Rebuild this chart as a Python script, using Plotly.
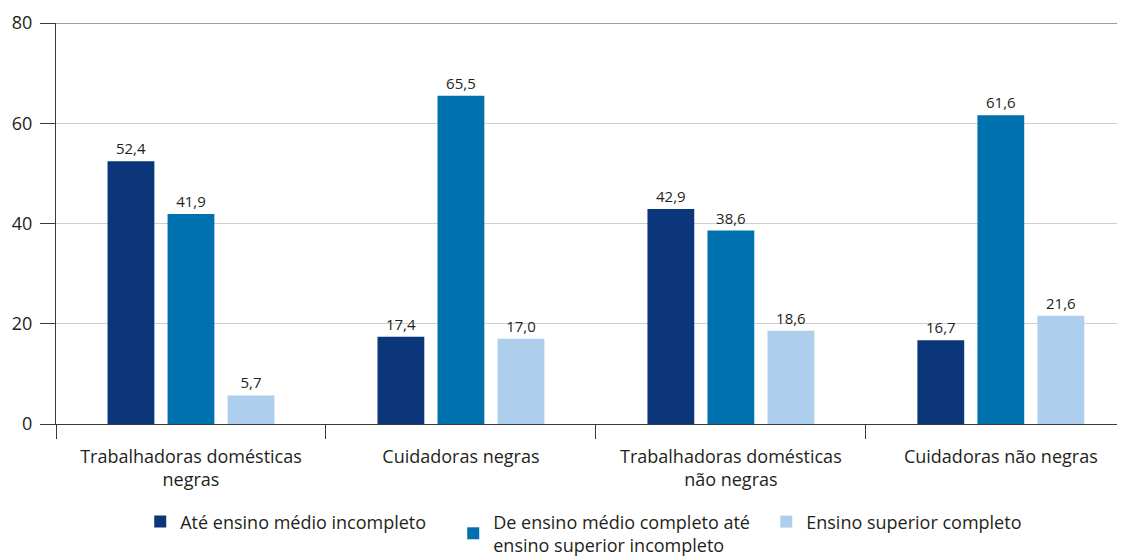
import plotly.graph_objects as go

categories = ["Trabalhadoras domésticas<br>negras", "Cuidadoras negras",
              "Trabalhadoras domésticas<br>não negras", "Cuidadoras não negras"]
series_names = ["Até ensino médio incompleto",
                "De ensino médio completo até<br>ensino superior incompleto",
                "Ensino superior completo"]
ate_medio_incompleto = [52.4, 17.4, 42.9, 16.7]
medio_completo_sup_incompleto = [41.9, 65.5, 38.6, 61.6]
superior_completo = [5.7, 17.0, 18.6, 21.6]
y_ticks = [0, 20, 40, 60, 80]

colors = ["#0B3679", "#0071AF", "#ADCEEC"]
values = [ate_medio_incompleto, medio_completo_sup_incompleto, superior_completo]

FONT = "Open Sans"
TXT = "#231f20"

fig = go.Figure()
for name, vals, c in zip(series_names, values, colors):
    fig.add_trace(go.Bar(
        x=categories, y=vals, name=name, marker=dict(color=c, line=dict(width=0)),
        texttemplate="%{y:.1f}", textposition="outside", cliponaxis=False,
        textfont=dict(family=FONT, size=15, color=TXT),
    ))

fig.add_shape(type="line", xref="paper", yref="y", x0=0, x1=1, y0=80, y1=80,
              line=dict(color="#3a3a3a", width=1.2))

fig.update_layout(
    width=1117, height=552,
    margin=dict(l=48, r=0, t=15, b=136, autoexpand=False),
    paper_bgcolor="white", plot_bgcolor="white",
    separators=",.",
    barmode="group", bargap=0.333, bargroupgap=0.22,
    font=dict(family=FONT, color=TXT),
    showlegend=True,
    legend=dict(orientation="h", x=0.518, xanchor="center", y=-0.198, yanchor="top",
                font=dict(family=FONT, size=18, color=TXT), traceorder="normal",
                entrywidth=268, entrywidthmode="pixels"),
    xaxis=dict(range=[-0.5, 3.46], showline=True, linecolor="#3a3a3a", linewidth=1.2,
               ticks="outside", tickson="boundaries", ticklen=14, tickcolor="#3a3a3a",
               tickfont=dict(family=FONT, size=18, color=TXT), showgrid=False,
               automargin=False, ticklabelstandoff=16),
    yaxis=dict(range=[0, 80], tickvals=y_ticks, showline=True, linecolor="#3a3a3a",
               linewidth=1.2, ticks="outside", ticklen=15, tickcolor="#3a3a3a",
               tickfont=dict(family=FONT, size=18, color=TXT), showgrid=True,
               gridcolor="#cfcfcf", gridwidth=1, zeroline=False, ticklabelstandoff=4,
               automargin=False),
)

fig.write_html("out.html")
